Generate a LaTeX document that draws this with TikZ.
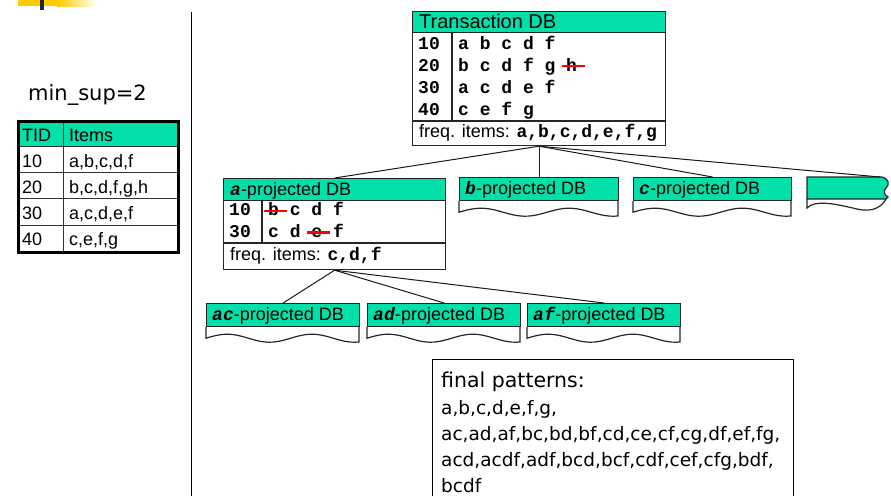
\documentclass[tikz,border=0pt]{standalone}
\usepackage{fontspec}
\setmainfont{Liberation Sans}
\setmonofont{Liberation Mono}
\newfontfamily\tahoma{DejaVu Sans}
\usepackage{tikz}
\definecolor{dbgreen}{RGB}{0,224,168}
\definecolor{baryellow}{RGB}{255,204,0}
\tikzset{
    % database boxes
    dbline/.style={draw=black!85, line width=1.2pt},
    dbframe/.style={dbline, fill=white, inner sep=0pt},
    dbhead/.style={dbline, fill=dbgreen, inner sep=0pt},
    headtext/.style={anchor=base west, inner sep=0pt, font=\fontsize{18}{22}\selectfont},
    rowtext/.style={anchor=base west, inner sep=0pt, font=\fontsize{18}{22}\selectfont\ttfamily\bfseries},
    cell/.style={anchor=base west, inner sep=0pt, font=\fontsize{18}{22}\selectfont},
    pattext/.style={anchor=base west, inner sep=0pt, font=\tahoma\fontsize{18.5}{22}\selectfont},
    link/.style={line width=1pt, black!90}
}
\newcommand{\itm}[1]{\textbf{\textit{\texttt{#1}}}}
\newcommand{\cutoff}[1]{#1\makebox[0pt][r]{\textcolor{red}{\rule[4pt]{23pt}{2.2pt}}\hspace{-8pt}}}

\begin{document}
\begin{tikzpicture}[x=1pt, y=-1pt]
    \useasboundingbox (0,0) rectangle (891,496);

    % slide corner mark
    \fill[baryellow] (18,0) rectangle (57,6);
    \shade[left color=baryellow, right color=white] (57,0) rectangle (97,6);
    \fill[black!85] (40,0) rectangle (44,10);

    % separator
    \draw[line width=1pt] (191,12) -- (191,496);

    % support threshold and input table
    \node[anchor=base west, inner sep=0pt, font=\tahoma\fontsize{21}{25}\selectfont] (minsup) at (28,100) {min\_sup=2};
    \fill[dbgreen] (17,120) rectangle (177,146);
    \foreach \y in {146,172,198,225}
        \draw[line width=1pt, black!80] (17,\y) -- (177,\y);
    \draw[line width=1pt, black!80] (63,120) -- (63,251);
    \node[draw, line width=2.5pt, minimum width=160pt, minimum height=131pt, anchor=north west, inner sep=0pt] (tidtab) at (17,120) {};
    \node[cell] (tidhead) at (22,141.7) {TID};
    \node[cell] (itemhead) at (69,141.7) {Items};
    \foreach \t/\s [count=\i] in {10/{a,b,c,d,f}, 20/{b,c,d,f,g,h}, 30/{a,c,d,e,f}, 40/{c,e,f,g}} {
        \node[cell] (tid\i) at (22,141.5+26*\i) {\t};
        \node[cell] (items\i) at (69,141.5+26*\i) {\s};
    }

    % Transaction DB
    \node[dbframe, minimum width=253pt, minimum height=134pt, anchor=north west] (tdb) at (412,11) {};
    \node[dbhead, minimum width=253pt, minimum height=21pt, anchor=north west] (tdbhead) at (412,11) {};
    \node[headtext, font=\fontsize{20}{24}\selectfont] (tdbtitle) at (419,28) {Transaction DB};
    \draw[dbline] (412,121) -- (665,121);
    \draw[dbline] (452,32) -- (452,121);
    \foreach \t/\s [count=\i] in {10/{a b c d f}, 20/{b c d f g \cutoff{h}}, 30/{a c d e f}, 40/{c e f g}} {
        \node[rowtext] (tdbid\i) at (418,27+22*\i) {\t};
        \node[rowtext] (tdbrow\i) at (458,27+22*\i) {\s};
    }
    \node[headtext] (tdbfreq) at (419,137) {freq. items: \texttt{\textbf{a,b,c,d,e,f,g}}};

    % a-projected DB
    \node[dbframe, minimum width=222pt, minimum height=91pt, anchor=north west] (aproj) at (223,178) {};
    \node[dbhead, minimum width=222pt, minimum height=22pt, anchor=north west] (aprojhead) at (223,178) {};
    \node[headtext] (aprojtitle) at (230,195) {\itm{a}-projected DB};
    \draw[dbline] (223,243) -- (445,243);
    \draw[dbline] (262,200) -- (262,243);
    \node[rowtext] (aid1) at (229,215.7) {10};
    \node[rowtext] (arow1) at (268,215.7) {\cutoff{b} c d f};
    \node[rowtext] (aid2) at (229,237.5) {30};
    \node[rowtext] (arow2) at (268,237.5) {c d \cutoff{e} f};
    \node[headtext] (aprojfreq) at (230,260) {freq. items: \texttt{\textbf{c,d,f}}};

    % other projected DBs (document shapes)
    \foreach \name/\px/\w/\py/\lbl in {bproj/459/159/177/{\itm{b}-projected DB}, cproj/633/158/177/{\itm{c}-projected DB},
                                      acproj/206/153/303/{\itm{ac}-projected DB}, adproj/367/153/303/{\itm{ad}-projected DB},
                                      afproj/527/153/303/{\itm{af}-projected DB}} {
        \node[dbhead, minimum width=\w pt, minimum height=23pt, anchor=north west] (\name) at (\px,\py) {};
        \node[headtext] (\name title) at (\px+6,\py+17) {\lbl};
        \begin{scope}[shift={(\name.south west)}]
            \draw[dbline] (0,0) -- (0,11) -- plot[domain=0:\w, samples=40, smooth] (\x,{11-4*sin(650/\w*\x)}) -- (\w,0);
        \end{scope}
    }
    % torn box on the right
    \filldraw[dbline, fill=dbgreen] (807,177) -- (882,177) .. controls (889,179) and (890,184) .. (886,188)
        .. controls (883,191) and (884,195) .. (888,197) -- (886,199) -- (807,199) -- cycle;
    \draw[dbline] (807,199) -- (807,208) .. controls (815,200) and (832,203) .. (857,209)
        .. controls (874,213) and (882,206) .. (886,199);
    \coordinate (dstub) at (880,177);

    % tree links
    \draw[link] (tdb.south) -- (aproj.north);
    \draw[link] (tdb.south) -- (bproj.north);
    \draw[link] (tdb.south) -- (cproj.north);
    \draw[link] (tdb.south) -- (dstub);
    \draw[link] (aproj.south) -- (acproj.north);
    \draw[link] (aproj.south) -- (adproj.north);
    \draw[link] (aproj.south) -- (afproj.north);

    % final patterns
    \draw[line width=1pt] (432,496) -- (432,359) -- (793,359) -- (793,496);
    \node[anchor=base west, inner sep=0pt, font=\tahoma\fontsize{20.5}{24}\selectfont] (pattitle) at (441,387) {final patterns:};
    \foreach \s [count=\i] in {{a,b,c,d,e,f,g,}, {ac,ad,af,bc,bd,bf,cd,ce,cf,cg,df,ef,fg,},
                               {acd,acdf,adf,bcd,bcf,cdf,cef,cfg,bdf,}, {bcdf}}
        \node[pattext] (pat\i) at (441,388.5+26*\i) {\s};
\end{tikzpicture}
\end{document}
